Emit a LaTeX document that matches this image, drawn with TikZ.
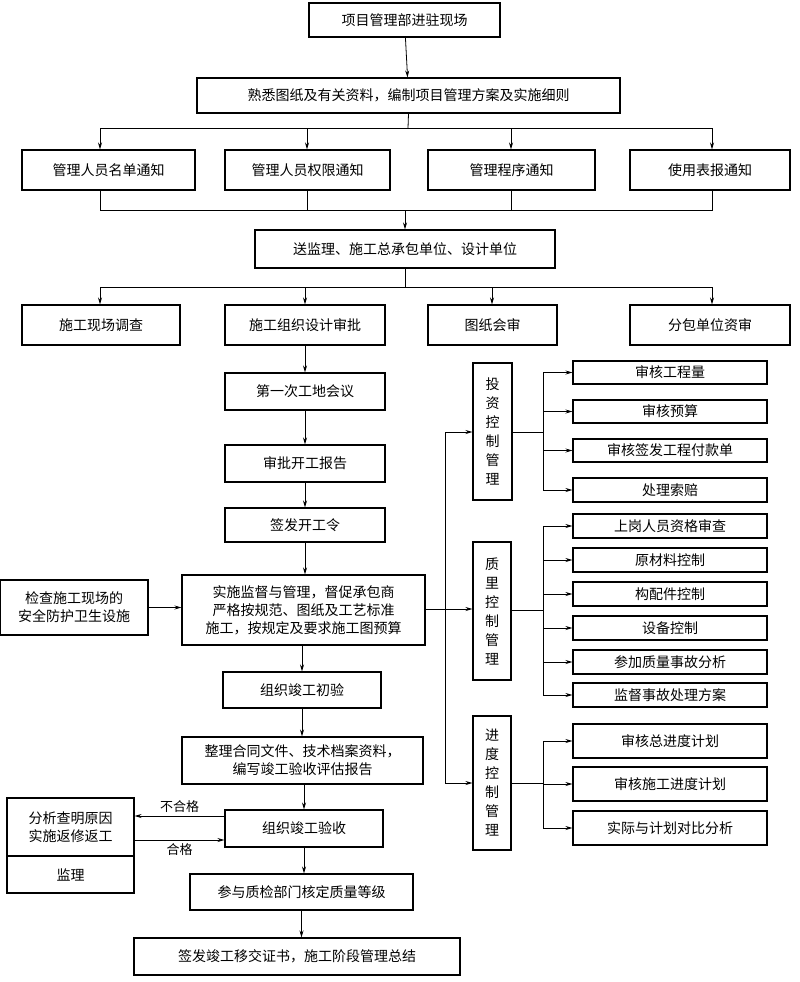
\documentclass[tikz,border=0pt]{standalone}
\usepackage{fontspec}
\setmainfont{Noto Sans CJK SC}
\usetikzlibrary{arrows.meta}
\begin{document}
\begin{tikzpicture}[x=1pt,y=-1pt,
  box/.style={draw,line width=1.1pt,inner sep=0pt,align=center,font=\fontsize{14}{18}\selectfont},
  vbox/.style={draw,line width=1.1pt,inner sep=0pt,align=center,font=\fontsize{14}{19}\selectfont},
  ln/.style={line width=0.8pt},
  arr/.style={line width=0.8pt,-{Stealth[length=7pt,width=4pt]}},
  lab/.style={font=\fontsize{13}{15}\selectfont}]
\useasboundingbox[fill=white] (0,0) rectangle (800,982);
\newcommand{\bx}[7][box]{\node[#1,minimum width=#5-#4,minimum height=#7-#6] (#2) at ({(#4+#5)/2},{(#6+#7)/2}) {#3};}
\bx{a}{项目管理部进驻现场}{309}{500}{3}{37}
\bx{b}{熟悉图纸及有关资料，编制项目管理方案及实施细则}{197}{620}{78}{113}
\bx{r1}{管理人员名单通知}{22}{195}{150}{190}
\bx{r2}{管理人员权限通知}{225}{390}{150}{190}
\bx{r3}{管理程序通知}{428}{595}{150}{190}
\bx{r4}{使用表报通知}{630}{790}{150}{190}
\bx{c}{送监理、施工总承包单位、设计单位}{255}{555}{230}{268}
\bx{s1}{施工现场调查}{22}{180}{305}{345}
\bx{s2}{施工组织设计审批}{225}{385}{305}{345}
\bx{s3}{图纸会审}{428}{557}{305}{345}
\bx{s4}{分包单位资审}{630}{790}{305}{345}
\bx{d1}{第一次工地会议}{225}{385}{373}{410}
\bx{d2}{审批开工报告}{225}{385}{445}{482}
\bx{d3}{签发开工令}{225}{385}{508}{542}
\bx{d4}{实施监督与管理，督促承包商\\严格按规范、图纸及工艺标准\\施工，按规定及要求施工图预算}{182}{425}{575}{645}
\bx{d5}{组织竣工初验}{223}{381}{672}{708}
\bx{d6}{整理合同文件、技术档案资料，\\编写竣工验收评估报告}{182}{423}{737}{784}
\bx{d7}{组织竣工验收}{225}{383}{810}{847}
\bx{d8}{参与质检部门核定质量等级}{190}{413}{874}{910}
\bx{d9}{签发竣工移交证书，施工阶段管理总结}{134}{460}{938}{975}
\bx{L1}{检查施工现场的\\安全防护卫生设施}{0}{148}{580}{635}
\bx{L2}{分析查明原因\\实施返修返工}{7}{134}{798}{856}
\bx{L3}{监理}{7}{134}{856}{893}
\bx[vbox]{m1}{投\\资\\控\\制\\管\\理}{473}{512}{363}{500}
\bx[vbox]{m2}{质\\里\\控\\制\\管\\理}{473}{511}{542}{680}
\bx[vbox]{m3}{进\\度\\控\\制\\管\\理}{473}{511}{716}{850}
\bx{i1}{审核工程量}{573}{767}{361}{384}
\bx{i2}{审核预算}{573}{767}{400}{423}
\bx{i3}{审核签发工程付款单}{573}{767}{439}{462}
\bx{i4}{处理索赔}{573}{767}{478}{502}
\bx{q1}{上岗人员资格审查}{573}{767}{514}{538}
\bx{q2}{原材料控制}{573}{767}{548}{572}
\bx{q3}{构配件控制}{573}{767}{582}{606}
\bx{q4}{设备控制}{573}{767}{616}{640}
\bx{q5}{参加质量事故分析}{573}{767}{650}{674}
\bx{q6}{监督事故处理方案}{573}{767}{683}{707}
\bx{p1}{审核总进度计划}{573}{767}{724}{758}
\bx{p2}{审核施工进度计划}{573}{767}{767}{801}
\bx{p3}{实际与计划对比分析}{573}{767}{811}{845}
% top section
\draw[arr] (a) -- (b);
\draw[ln] (b.south) -- (408,128);
\draw[ln] (100,128) -- (712,128);
\draw[arr] (100,128) -- (r1.north -| 100,0);
\draw[arr] (307,128) -- (r2.north -| 307,0);
\draw[arr] (511,128) -- (r3.north -| 511,0);
\draw[arr] (712,128) -- (r4.north -| 712,0);
\draw[ln] (r1.south -| 100,0) -- (100,210) -- (712,210) -- (r4.south -| 712,0);
\draw[ln] (r2.south -| 307,0) -- (307,210);
\draw[ln] (r3.south -| 511,0) -- (511,210);
\draw[arr] (405,210) -- (c.north);
\draw[ln] (c.south) -- (405,287);
\draw[ln] (100,287) -- (712,287);
\draw[arr] (100,287) -- (s1.north -| 100,0);
\draw[arr] (305,287) -- (s2.north -| 305,0);
\draw[arr] (492,287) -- (s3.north -| 492,0);
\draw[arr] (712,287) -- (s4.north -| 712,0);
% column
\draw[arr] (s2) -- (d1);
\draw[arr] (d1) -- (d2);
\draw[arr] (d2) -- (d3);
\draw[arr] (d3.south) -- (d4.north -| d3.south);
\draw[arr] (d4.south -| d5.north) -- (d5);
\draw[arr] (d5.south) -- (d6.north -| d5.south);
\draw[arr] (d6.south -| d7.north) -- (d7);
\draw[arr] (d7.south) -- (d8.north -| d7.south);
\draw[arr] (d8.south) -- (d9.north -| d8.south);
\draw[arr] (L1) -- (d4.west |- L1);
\draw[arr] (d7.west |- 0,816) -- (L2.east |- 0,816) node[lab,midway,above] {不合格};
\draw[arr] (L2.east |- 0,840) -- (d7.west |- 0,840) node[lab,midway,below] {合格};
% right branches
\draw[ln] (d4.east |- 0,609) -- (445,609);
\draw[ln] (445,432) -- (445,783);
\draw[arr] (445,432) -- (m1.west |- 0,432);
\draw[arr] (445,609) -- (m2.west |- 0,609);
\draw[arr] (445,783) -- (m3.west |- 0,783);
\draw[ln] (m1.east |- 0,432) -- (543,432);
\draw[ln] (543,373) -- (543,490);
\foreach \n in {i1,i2,i3,i4} \draw[arr] (543,0 |- \n.west) -- (\n.west);
\draw[ln] (m2.east |- 0,610) -- (543,610);
\draw[ln] (543,526) -- (543,695);
\foreach \n in {q1,q2,q3,q4,q5,q6} \draw[arr] (543,0 |- \n.west) -- (\n.west);
\draw[ln] (m3.east |- 0,783) -- (543,783);
\draw[ln] (543,741) -- (543,828);
\foreach \n in {p1,p2,p3} \draw[arr] (543,0 |- \n.west) -- (\n.west);
\end{tikzpicture}
\end{document}
